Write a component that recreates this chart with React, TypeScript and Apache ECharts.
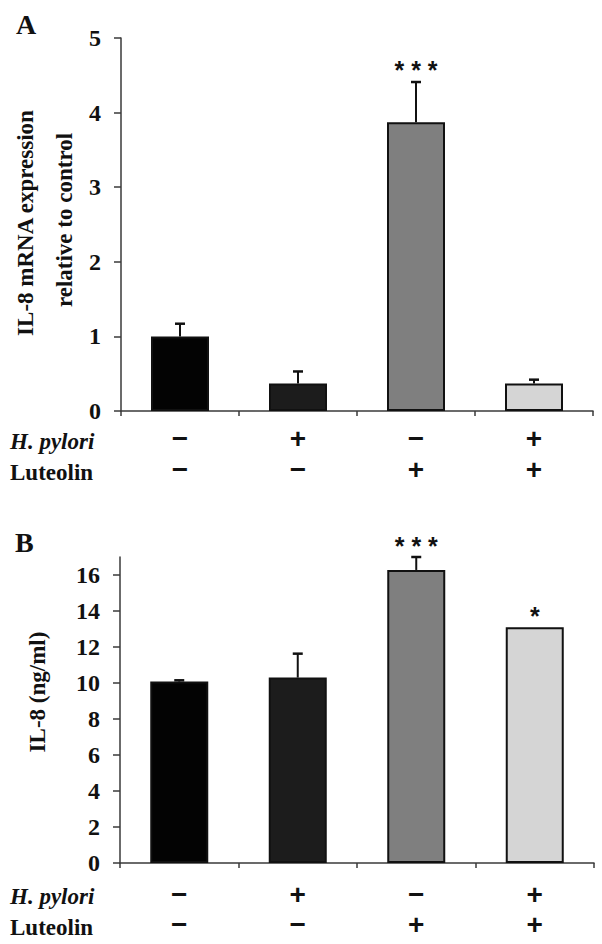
import React, { useEffect, useRef } from "react";
import * as echarts from "echarts";

// ---- data ----
const hPylori = ["−", "+", "−", "+"];
const luteolin = ["−", "−", "+", "+"];
const categories = hPylori.map((h, i) => `${h}\n${luteolin[i]}`);
const barColors = ["#030303", "#1c1c1c", "#7f7f7f", "#d5d5d5"];

// Panel A: IL-8 mRNA expression relative to control
const mrnaMean = [1.0, 0.37, 3.87, 0.37];
const mrnaErr = [0.17, 0.16, 0.54, 0.05];
const mrnaSig = ["", "", "* * *", ""];
const mrnaTicks = [0, 1, 2, 3, 4, 5];

// Panel B: IL-8 (ng/ml)
const il8Mean = [10.08, 10.3, 16.28, 13.1];
const il8Err = [0.07, 1.33, 0.72, 0];
const il8Sig = ["", "", "* * *", "*"];
const il8Ticks = [0, 2, 4, 6, 8, 10, 12, 14, 16];

const SERIF = "'Liberation Serif', 'Times New Roman', serif";
const SANS = "'Liberation Sans', Arial, sans-serif";
const AXIS = "#3a3a3a";

function errSeries(idx: number, means: number[], errs: number[], sigs: string[], gap: number) {
  return {
    type: "custom",
    xAxisIndex: idx,
    yAxisIndex: idx,
    z: 5,
    data: means.map((m, i) => [i, m, errs[i]]),
    renderItem: (params: any, api: any) => {
      const i = api.value(0);
      const m = api.value(1);
      const e = api.value(2);
      const base = api.coord([i, m]);
      const top = api.coord([i, m + e]);
      const children: any[] = [];
      if (e > 0) {
        children.push({
          type: "line",
          shape: { x1: base[0], y1: base[1], x2: top[0], y2: top[1] },
          style: { stroke: "#111", lineWidth: 2 },
        });
        children.push({
          type: "line",
          shape: { x1: top[0] - 5, y1: top[1], x2: top[0] + 5, y2: top[1] },
          style: { stroke: "#111", lineWidth: 2.5 },
        });
      }
      const sig = sigs[params.dataIndex];
      if (sig) {
        children.push({
          type: "text",
          x: top[0],
          y: top[1] - gap + 5,
          style: {
            text: sig,
            fill: "#111",
            font: `bold 25px ${SANS}`,
            align: "center",
            verticalAlign: "middle",
          },
        });
      }
      return { type: "group", children };
    },
  };
}

function barSeries(idx: number, means: number[]) {
  return {
    type: "bar",
    xAxisIndex: idx,
    yAxisIndex: idx,
    barWidth: 58,
    data: means.map((v, i) => ({
      value: v,
      itemStyle: { color: barColors[i], borderColor: "#111", borderWidth: 2 },
    })),
  };
}

function xAxis(idx: number, margin: number, lh: number) {
  return {
    type: "category",
    gridIndex: idx,
    data: categories,
    axisLine: { lineStyle: { color: AXIS, width: 1.5 } },
    axisTick: { show: true, length: 5, lineStyle: { color: AXIS, width: 1.5 } },
    axisLabel: {
      margin,
      color: "#111",
      fontFamily: SANS,
      fontWeight: "bold",
      fontSize: 28,
      lineHeight: lh,
    },
  };
}

function yAxis(idx: number, max: number, interval: number, ticks: number[]) {
  return {
    type: "value",
    gridIndex: idx,
    min: 0,
    max,
    interval,
    splitLine: { show: false },
    axisLine: { show: true, lineStyle: { color: AXIS, width: 1.5 } },
    axisTick: { show: true, length: 7, lineStyle: { color: AXIS, width: 1.5 }, customValues: ticks },
    axisLabel: {
      margin: 20,
      color: "#111",
      fontFamily: SERIF,
      fontWeight: "bold",
      fontSize: 24,
      customValues: ticks,
    },
  };
}

function txt(text: string, x: number, y: number, font: string, extra: any = {}) {
  return {
    type: "text",
    x,
    y,
    ...extra,
    style: { text, fill: "#111", font, verticalAlign: "middle", align: extra.align || "left" },
  };
}

export default function App() {
  const ref = useRef<HTMLDivElement>(null);
  useEffect(() => {
    if (!ref.current) return;
    const chart = echarts.init(ref.current, undefined, { renderer: "svg" });
    const titleFont = `bold 23px ${SERIF}`;
    chart.setOption({
      animation: false,
      backgroundColor: "#ffffff",
      grid: [
        { left: 121, right: 9, top: 38, bottom: 944 - 411, containLabel: false, outerBoundsMode: "none" },
        { left: 120, right: 8, top: 557, bottom: 944 - 863, containLabel: false, outerBoundsMode: "none" },
      ],
      xAxis: [xAxis(0, 12, 31), xAxis(1, 16, 30)],
      yAxis: [yAxis(0, 5, 1, mrnaTicks), yAxis(1, 17, 2, il8Ticks)],
      series: [
        barSeries(0, mrnaMean),
        errSeries(0, mrnaMean, mrnaErr, mrnaSig, 17),
        barSeries(1, il8Mean),
        errSeries(1, il8Mean, il8Err, il8Sig, 16),
      ],
      graphic: [
        txt("A", 16, 24, `bold 28px ${SERIF}`),
        txt("B", 15, 542, `bold 28px ${SERIF}`),
        txt("IL-8 mRNA expression", 25, 223, titleFont, { rotation: Math.PI / 2, align: "center" }),
        txt("relative to control", 64, 220, titleFont, { rotation: Math.PI / 2, align: "center" }),
        txt("IL-8 (ng/ml)", 37, 692, titleFont, { rotation: Math.PI / 2, align: "center" }),
        txt("H. pylori", 10, 441, `italic bold 23px ${SERIF}`),
        txt("Luteolin", 10, 472, `bold 23px ${SERIF}`),
        txt("H. pylori", 10, 896, `italic bold 23px ${SERIF}`),
        txt("Luteolin", 10, 927, `bold 23px ${SERIF}`),
      ],
    });
    return () => chart.dispose();
  }, []);
  return (
    <div
      ref={ref}
      style={{ position: "absolute", left: 0, top: 0, width: 602, height: 944, background: "#fff" }}
    />
  );
}
